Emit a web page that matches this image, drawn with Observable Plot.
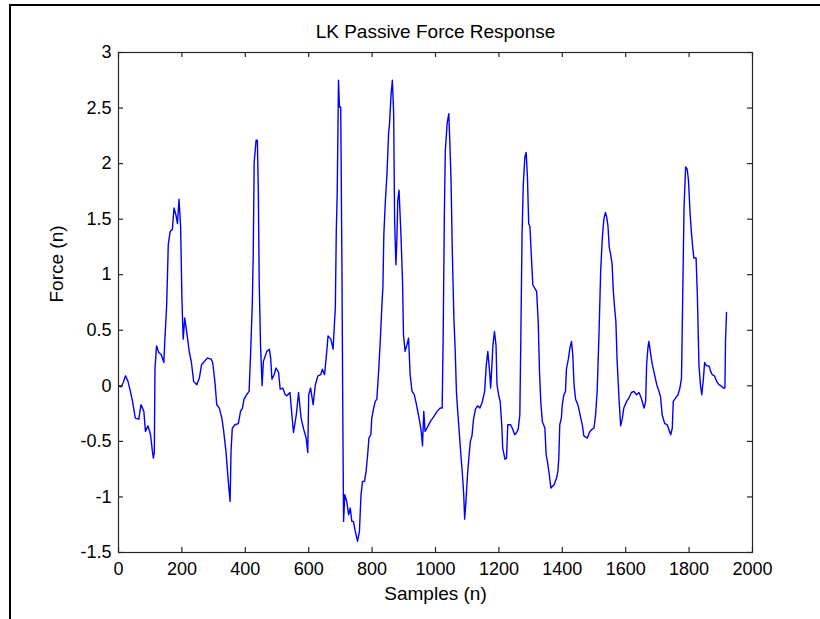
<!DOCTYPE html>
<html><head><meta charset="utf-8">
<script src="https://cdn.jsdelivr.net/npm/d3@7"></script>
<script src="https://cdn.jsdelivr.net/npm/@observablehq/plot@0.6"></script>
<style>
body{margin:0;background:#fff;}
#wrap{position:relative;width:820px;height:619px;overflow:hidden;background:#fff;}
#border{position:absolute;left:9px;top:4px;right:-4px;bottom:-4px;border-top:2px solid #000;border-left:2px solid #000;pointer-events:none;}
</style></head><body><div id="wrap"><div id="chart"></div><div id="border"></div></div>
<script>
const title = "LK Passive Force Response";
const xLabel = "Samples (n)";
const yLabel = "Force (n)";
const xTicks = [0, 200, 400, 600, 800, 1000, 1200, 1400, 1600, 1800, 2000];
const yTicks = [-1.5, -1, -0.5, 0, 0.5, 1, 1.5, 2, 2.5, 3];

const samples = [
  0, 8, 15, 22, 30, 43, 53, 64, 71, 80, 85, 93, 101, 107, 110, 113, 115, 120, 127, 135,
  143, 146, 152, 157, 163, 170, 175, 181, 186, 191, 196, 200, 204, 209, 215, 223, 230, 237, 247, 255,
  262, 271, 281, 292, 297, 304, 310, 318, 326, 331, 339, 346, 352, 355, 359, 367, 378, 385, 391, 396,
  404, 412, 417, 422, 425, 428, 434, 438, 441, 444, 448, 453, 457, 468, 476, 480, 484, 491, 497, 505,
  510, 518, 526, 531, 541, 547, 552, 561, 568, 576, 584, 592, 597, 600, 606, 614, 621, 629, 638, 643,
  650, 657, 661, 670, 677, 681, 684, 687, 690, 694, 697, 701, 705, 708, 710, 714, 720, 726, 731, 736,
  741, 747, 754, 760, 765, 770, 776, 781, 786, 790, 796, 799, 805, 810, 815, 821, 826, 831, 834, 837,
  842, 847, 852, 855, 860, 864, 868, 871, 875, 878, 881, 885, 891, 896, 899, 904, 910, 915, 920, 926,
  933, 940, 944, 950, 955, 959, 963, 967, 973, 984, 994, 1005, 1015, 1021, 1024, 1028, 1031, 1037, 1042, 1045,
  1049, 1053, 1058, 1062, 1066, 1070, 1075, 1080, 1085, 1089, 1092, 1096, 1101, 1106, 1110, 1115, 1120, 1126, 1133, 1140,
  1147, 1155, 1160, 1165, 1170, 1174, 1178, 1181, 1186, 1191, 1194, 1199, 1204, 1209, 1212, 1219, 1224, 1228, 1237, 1242,
  1250, 1256, 1261, 1266, 1269, 1273, 1277, 1282, 1286, 1290, 1294, 1298, 1303, 1307, 1313, 1319, 1324, 1328, 1332, 1337,
  1345, 1349, 1353, 1359, 1364, 1374, 1382, 1386, 1389, 1392, 1397, 1400, 1405, 1410, 1413, 1419, 1424, 1429, 1433, 1437,
  1442, 1449, 1456, 1463, 1468, 1479, 1487, 1494, 1500, 1505, 1510, 1516, 1521, 1526, 1531, 1536, 1540, 1544, 1548, 1552,
  1557, 1561, 1565, 1569, 1573, 1579, 1584, 1589, 1594, 1603, 1610, 1618, 1626, 1634, 1642, 1649, 1658, 1663, 1666, 1670,
  1673, 1679, 1684, 1691, 1698, 1705, 1710, 1715, 1723, 1731, 1736, 1742, 1747, 1750, 1757, 1765, 1771, 1776, 1779, 1784,
  1789, 1794, 1798, 1803, 1807, 1811, 1815, 1822, 1826, 1831, 1836, 1840, 1845, 1849, 1855, 1863, 1868, 1873, 1880, 1887,
  1894, 1901, 1908, 1913, 1915, 1918
];
const force = [
  0.00, -0.01, 0.03, 0.09, 0.04, -0.12, -0.29, -0.30, -0.17, -0.23, -0.41, -0.36, -0.44, -0.59, -0.65, -0.60, 0.15, 0.36, 0.30, 0.28,
  0.21, 0.40, 0.73, 1.27, 1.39, 1.41, 1.60, 1.54, 1.46, 1.68, 1.43, 0.79, 0.42, 0.61, 0.49, 0.31, 0.21, 0.04, 0.01, 0.07,
  0.19, 0.22, 0.25, 0.24, 0.21, 0.04, -0.17, -0.20, -0.29, -0.39, -0.59, -0.85, -1.04, -0.59, -0.38, -0.35, -0.34, -0.23, -0.20, -0.12,
  -0.08, -0.05, 0.31, 0.73, 1.18, 2.01, 2.21, 2.21, 1.77, 0.91, 0.37, 0.00, 0.22, 0.31, 0.33, 0.25, 0.06, 0.10, 0.16, 0.12,
  -0.03, -0.02, -0.08, -0.09, -0.06, -0.26, -0.42, -0.26, -0.06, -0.29, -0.39, -0.47, -0.60, -0.08, -0.02, -0.17, 0.01, 0.09, 0.10, 0.15,
  0.10, 0.31, 0.45, 0.42, 0.33, 0.55, 0.70, 1.39, 1.74, 2.75, 2.51, 2.51, 1.00, -0.44, -1.22, -0.98, -1.04, -1.16, -1.10, -1.22,
  -1.22, -1.31, -1.40, -1.31, -0.98, -0.86, -0.86, -0.77, -0.62, -0.47, -0.44, -0.29, -0.20, -0.14, -0.12, 0.15, 0.42, 0.73, 0.88, 1.36,
  1.67, 1.91, 2.27, 2.36, 2.63, 2.75, 2.45, 1.49, 1.09, 1.30, 1.67, 1.76, 1.36, 0.94, 0.46, 0.31, 0.37, 0.43, 0.10, -0.05,
  -0.08, -0.17, -0.23, -0.32, -0.41, -0.54, -0.23, -0.41, -0.38, -0.32, -0.28, -0.23, -0.20, -0.20, 0.40, 1.56, 2.12, 2.37, 2.45, 2.21,
  1.85, 1.21, 0.61, 0.33, -0.05, -0.23, -0.42, -0.62, -0.80, -0.98, -1.20, -1.04, -0.80, -0.62, -0.50, -0.45, -0.30, -0.21, -0.18, -0.20,
  -0.15, -0.05, 0.18, 0.31, 0.15, -0.02, 0.19, 0.36, 0.49, 0.36, 0.01, -0.08, -0.14, -0.35, -0.56, -0.66, -0.65, -0.35, -0.35, -0.38,
  -0.44, -0.42, -0.39, -0.26, 0.39, 1.36, 1.82, 2.06, 2.10, 1.88, 1.46, 1.43, 1.13, 0.91, 0.88, 0.85, 0.58, 0.13, -0.14, -0.32,
  -0.38, -0.62, -0.68, -0.80, -0.92, -0.89, -0.83, -0.77, -0.65, -0.35, -0.29, -0.17, -0.08, -0.05, 0.15, 0.24, 0.34, 0.40, 0.28, 0.01,
  -0.12, -0.17, -0.26, -0.35, -0.45, -0.47, -0.41, -0.39, -0.38, -0.26, -0.05, 0.49, 1.03, 1.32, 1.50, 1.56, 1.52, 1.44, 1.25, 1.19,
  1.10, 0.85, 0.70, 0.58, 0.22, -0.12, -0.36, -0.30, -0.20, -0.14, -0.11, -0.06, -0.05, -0.08, -0.06, -0.11, -0.20, -0.14, 0.19, 0.34,
  0.40, 0.28, 0.19, 0.10, 0.01, -0.05, -0.10, -0.26, -0.34, -0.35, -0.39, -0.44, -0.38, -0.14, -0.11, -0.08, -0.02, 0.07, 0.64, 1.60,
  1.97, 1.95, 1.85, 1.56, 1.39, 1.26, 1.15, 1.15, 0.82, 0.19, 0.00, -0.08, 0.06, 0.21, 0.18, 0.18, 0.13, 0.10, 0.09, 0.04,
  0.01, 0.00, -0.02, -0.02, 0.42, 0.66
];

const data = samples.map((n, i) => ({n, f: force[i]}));
const W = 820, H = 619, mL = 118, mR = 68, mT = 52, mB = 67;
const innerW = W - mL - mR, innerH = H - mT - mB;
const axisColor = "#262626";
const font = "'Liberation Sans', Arial, sans-serif";

const chart = Plot.plot({
  width: W, height: H,
  marginLeft: mL, marginRight: mR, marginTop: mT, marginBottom: mB,
  style: {fontFamily: font, fontSize: "18px", background: "#fff", color: "#000", overflow: "visible"},
  x: {domain: [0, 2000]},
  y: {domain: [-1.5, 3]},
  marks: [
    Plot.line(data, {x: "n", y: "f", stroke: "#0000ff", strokeWidth: 1.4}),
    Plot.frame({stroke: axisColor, strokeWidth: 1.2}),
    Plot.tickX(xTicks, {x: d => d, stroke: axisColor, strokeWidth: 1.2, insetTop: innerH - 5}),
    Plot.tickX(xTicks, {x: d => d, stroke: axisColor, strokeWidth: 1.2, insetBottom: innerH - 5}),
    Plot.tickY(yTicks, {y: d => d, stroke: axisColor, strokeWidth: 1.2, insetRight: innerW - 5}),
    Plot.tickY(yTicks, {y: d => d, stroke: axisColor, strokeWidth: 1.2, insetLeft: innerW - 5}),
    Plot.axisX({ticks: xTicks, tickSize: 0, tickPadding: 10, tickFormat: d => String(d), label: null, fontSize: 18}),
    Plot.axisY({ticks: yTicks, tickSize: 0, tickPadding: 7, tickFormat: d => String(d), label: null, fontSize: 18}),
    Plot.text([title], {frameAnchor: "top", lineAnchor: "middle", dy: -21, fontSize: 19, fill: "#000"}),
    Plot.text([xLabel], {frameAnchor: "bottom", lineAnchor: "middle", dy: 41, fontSize: 19, fill: "#000"}),
    Plot.text([yLabel], {frameAnchor: "left", lineAnchor: "middle", dx: -62, rotate: -90, fontSize: 19, fill: "#000"})
  ]
});
document.getElementById("chart").appendChild(chart);
</script>
</body></html>
